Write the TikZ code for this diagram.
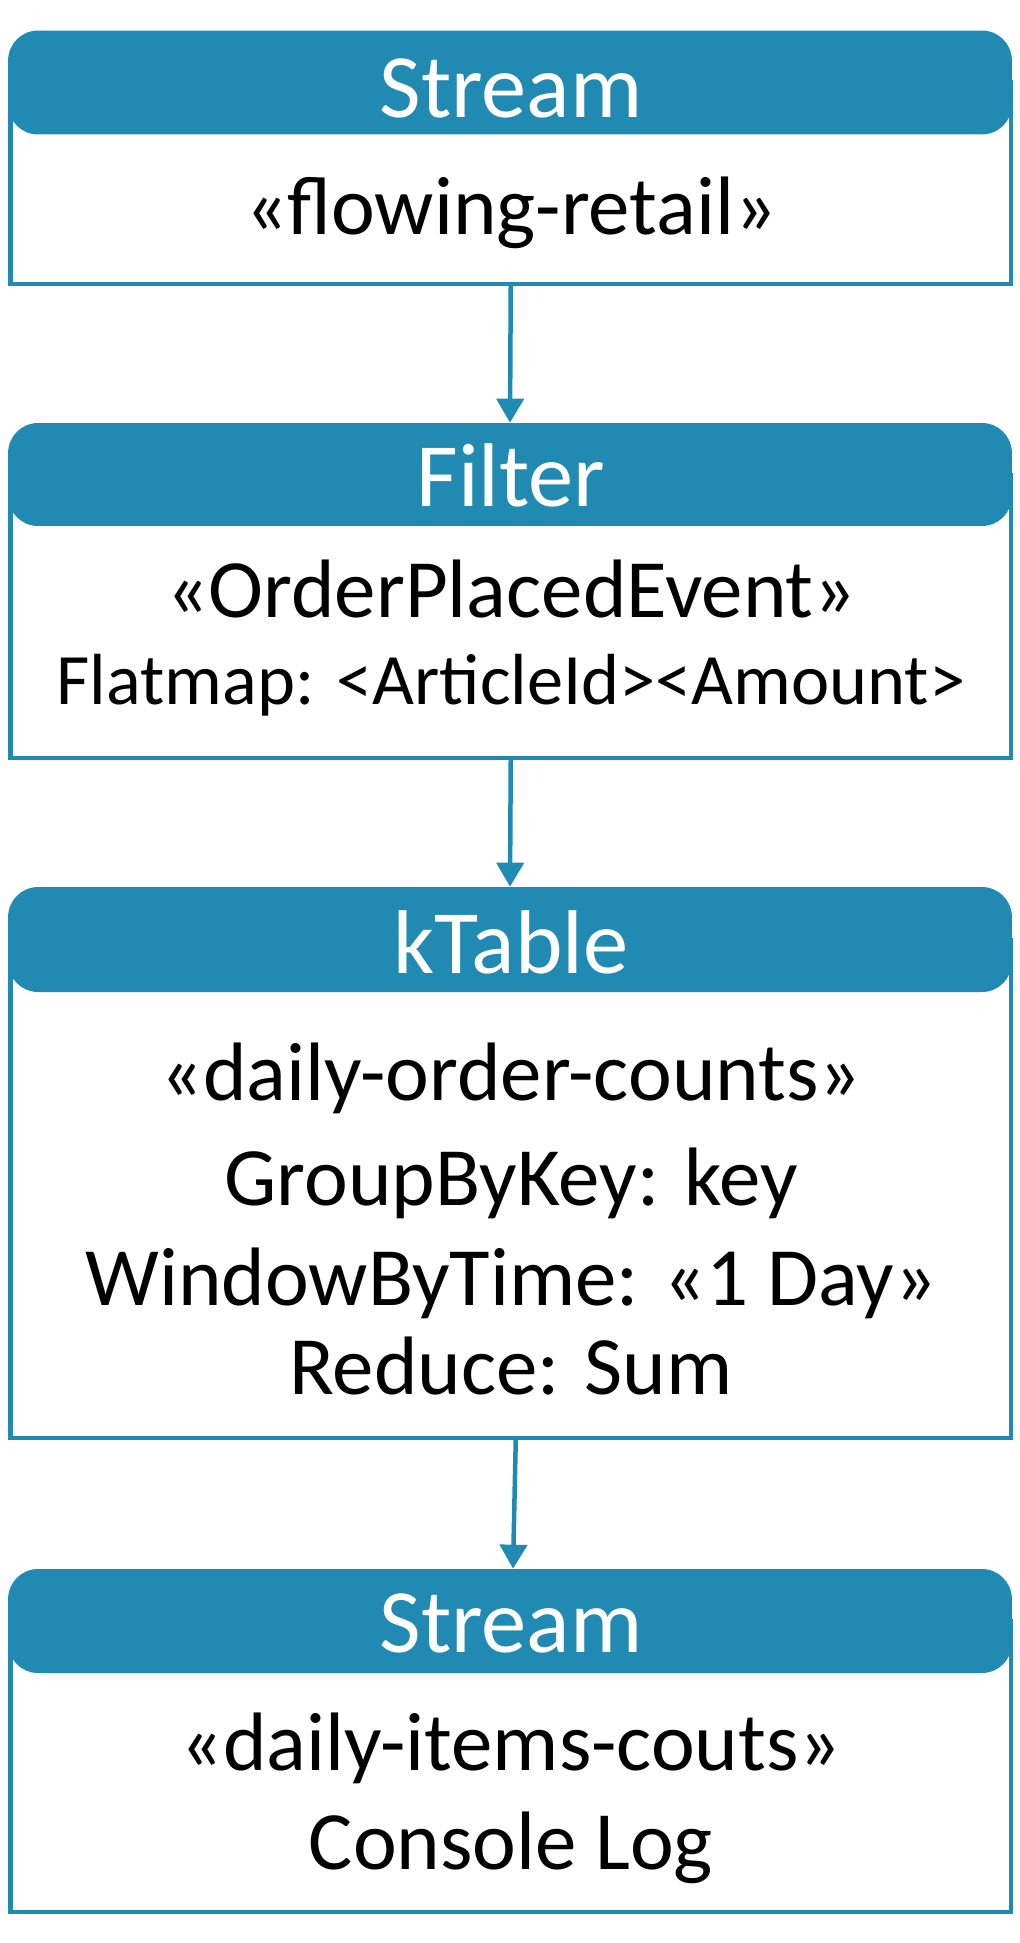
\documentclass[tikz,border=0pt]{standalone}
\usepackage{fontspec}
\setmainfont{Carlito}
\usetikzlibrary{arrows.meta}
\definecolor{kblue}{RGB}{33,138,178}
\newcommand{\titlesize}{\fontsize{51.5}{60}\selectfont}
\newcommand{\bodysize}{\fontsize{47.2}{56}\selectfont}
\newcommand{\smallsize}{\fontsize{41.2}{50}\selectfont}
\begin{document}
\begin{tikzpicture}[x=0.02cm, y=-0.02cm,
	boxframe/.style={draw=kblue, line width=0.09cm, minimum width=20.01cm, fill=white},
	boxhead/.style={fill=kblue, rounded corners=0.6cm, minimum width=20.08cm},
	boxtitle/.style={anchor=base, text=white, font=\titlesize},
	boxtext/.style={anchor=base, font=\bodysize},
	flow/.style={draw=kblue, line width=0.09cm, -{Triangle[width=0.54cm, length=0.48cm]}}]
			\tikzstyle{every node}+=[inner sep=0pt]
			\useasboundingbox (0,0) rectangle (1020,1943);
			% input stream
			\node [boxframe, minimum height=4.04cm] (inframe) at (510.75,183) {};
			\node [boxhead, minimum height=2.08cm] (inhead) at (510,82.5) {};
			\node [boxtitle] (intitle) at (511,118) {Stream};
			\node [boxtext] (intopic) at (511,235) {«flowing-retail»};
			% filter
			\node [boxframe, minimum height=5.66cm] (filterframe) at (510.75,616.5) {};
			\node [boxhead, minimum height=2.06cm] (filterhead) at (510,474.5) {};
			\node [boxtitle] (filtertitle) at (511,506) {Filter};
			\node [boxtext] (filterevent) at (511,617) {«OrderPlacedEvent»};
			\node [boxtext, font=\smallsize] (filtermap) at (511,704) {Flatmap: <ArticleId><Amount>};
			% ktable
			\node [boxframe, minimum height=9.96cm] (tableframe) at (510.75,1189) {};
			\node [boxhead, minimum height=2.1cm] (tablehead) at (510,939.5) {};
			\node [boxtitle] (tabletitle) at (511,973) {kTable};
			\node [boxtext] (tablename) at (511,1100) {«daily-order-counts»};
			\node [boxtext] (tablegroup) at (511,1205) {GroupByKey: key};
			\node [boxtext] (tablewindow) at (511,1305) {WindowByTime: «1 Day»};
			\node [boxtext] (tablereduce) at (511,1394) {Reduce: Sum};
			% output stream
			\node [boxframe, minimum height=5.82cm] (outframe) at (510.75,1766.5) {};
			\node [boxhead, minimum height=2.08cm] (outhead) at (510,1621) {};
			\node [boxtitle] (outtitle) at (511,1652) {Stream};
			\node [boxtext] (outtopic) at (511,1770) {«daily-items-couts»};
			\node [boxtext] (outlog) at (511,1869) {Console Log};
			% connectors
			\draw [flow] (inframe.south) -- (filterhead.north);
			\draw [flow] (filterframe.south) -- (tablehead.north);
			\draw [flow] ([xshift=0.1cm]tableframe.south) -- ([xshift=0.06cm]outhead.north);
\end{tikzpicture}
\end{document}
